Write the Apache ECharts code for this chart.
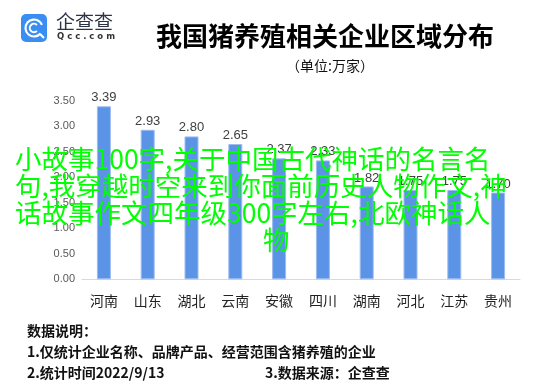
<!DOCTYPE html>
<html>
<head>
<meta charset="utf-8">
<script src="https://cdn.jsdelivr.net/npm/echarts@6/dist/echarts.min.js"></script>
<style>
html,body{margin:0;padding:0;background:#fff;}
#chart{width:553px;height:389px;}
</style>
</head>
<body>
<div id="chart"></div>
<script>
var categories = ['河南','山东','湖北','云南','安徽','四川','湖南','河北','江苏','贵州'];
var values = [3.39, 2.93, 2.80, 2.65, 2.37, 2.33, 1.82, 1.75, 1.75, 1.70];
var yTicks = {min: 0, max: 3.5, interval: 0.5};
var titleText = '我国猪养殖相关企业区域分布';
var subtitleText = '（单位:万家）';
var noteLines = ['数据说明：', '1.仅统计企业名称、品牌产品、经营范围含猪养殖的企业', '2.统计时间2022/9/13'];
var sourceText = '3.数据来源：企查查';
var overlayLines = ['小故事100字,关于中国古代神话的名言名', '句,我穿越时空来到你面前历史人物作文,神', '话故事作文四年级300字左右,北欧神话人', '物'];

var CJK = '"Noto Sans CJK SC", "Noto Sans", sans-serif';
var chart = echarts.init(document.getElementById('chart'), null, {renderer: 'canvas'});

var overlay = overlayLines.map(function (t, i) {
  return {
    type: 'text', z: 100,
    left: i === 3 ? 263 : 15, top: 146 + i * 27,
    style: {text: t, fill: '#00ff00', font: '26.5px ' + CJK}
  };
});

var notes = noteLines.map(function (t, i) {
  return {
    type: 'text', left: 27, top: 324 + i * 21,
    style: {text: t, fill: '#111', font: 'bold 14px ' + CJK}
  };
});

chart.setOption({
  animation: false,
  title: [
    {text: titleText, left: 151, top: 18,
     textStyle: {fontSize: 26, fontWeight: 'bold', color: '#000', fontFamily: CJK}},
    {text: subtitleText, left: 281, top: 54,
     textStyle: {fontSize: 14, fontWeight: 'normal', color: '#111', fontFamily: CJK}}
  ],
  grid: {left: 82, right: 33, top: 100.7, bottom: 109.7, containLabel: false},
  xAxis: {
    type: 'category', data: categories,
    axisLine: {lineStyle: {color: '#d9d9d9', width: 1}},
    axisTick: {show: false},
    axisLabel: {color: '#222', fontSize: 14, margin: 14, fontFamily: CJK}
  },
  yAxis: {
    type: 'value', min: yTicks.min, max: yTicks.max, interval: yTicks.interval,
    splitLine: {show: false},
    axisLine: {show: false}, axisTick: {show: false},
    axisLabel: {color: '#595959', fontSize: 11, margin: 7, fontFamily: '"Liberation Sans", sans-serif',
      formatter: function (v) { return v.toFixed(2); }}
  },
  series: [{
    type: 'bar', data: values, barWidth: 14,
    itemStyle: {color: '#5b93e6', borderColor: '#9dbcf0', borderWidth: 1},
    label: {show: true, position: 'top', distance: 2, color: '#404040', fontSize: 13,
      fontFamily: '"Liberation Sans", sans-serif',
      formatter: function (p) { return p.value.toFixed(2); }}
  }],
  graphic: [
    {type: 'rect', left: 21, top: 14, shape: {width: 26, height: 28, r: 5}, style: {fill: '#3a8ef2'}},
    {type: 'arc', shape: {cx: 34, cy: 28, r: 8.5, startAngle: 0.7, endAngle: 5.9}, style: {stroke: '#fff', lineWidth: 2.2, fill: null}},
    {type: 'arc', shape: {cx: 34, cy: 28, r: 4.2, startAngle: 0.8, endAngle: 5.5}, style: {stroke: '#fff', lineWidth: 2, fill: null}},
    {type: 'line', shape: {x1: 40, y1: 34, x2: 44, y2: 38}, style: {stroke: '#fff', lineWidth: 2.2}},
    {type: 'text', left: 56, top: 12, style: {text: '企查查', fill: '#2b3445', font: '19px ' + CJK}},
    {type: 'text', left: 57, top: 32, style: {text: 'Q c c . c o m', fill: '#333', font: 'bold 8.5px "DejaVu Sans", sans-serif'}}
  ].concat(notes).concat([
    {type: 'text', left: 265, top: 366, style: {text: sourceText, fill: '#111', font: 'bold 14px ' + CJK}}
  ]).concat(overlay)
});
</script>
</body>
</html>
